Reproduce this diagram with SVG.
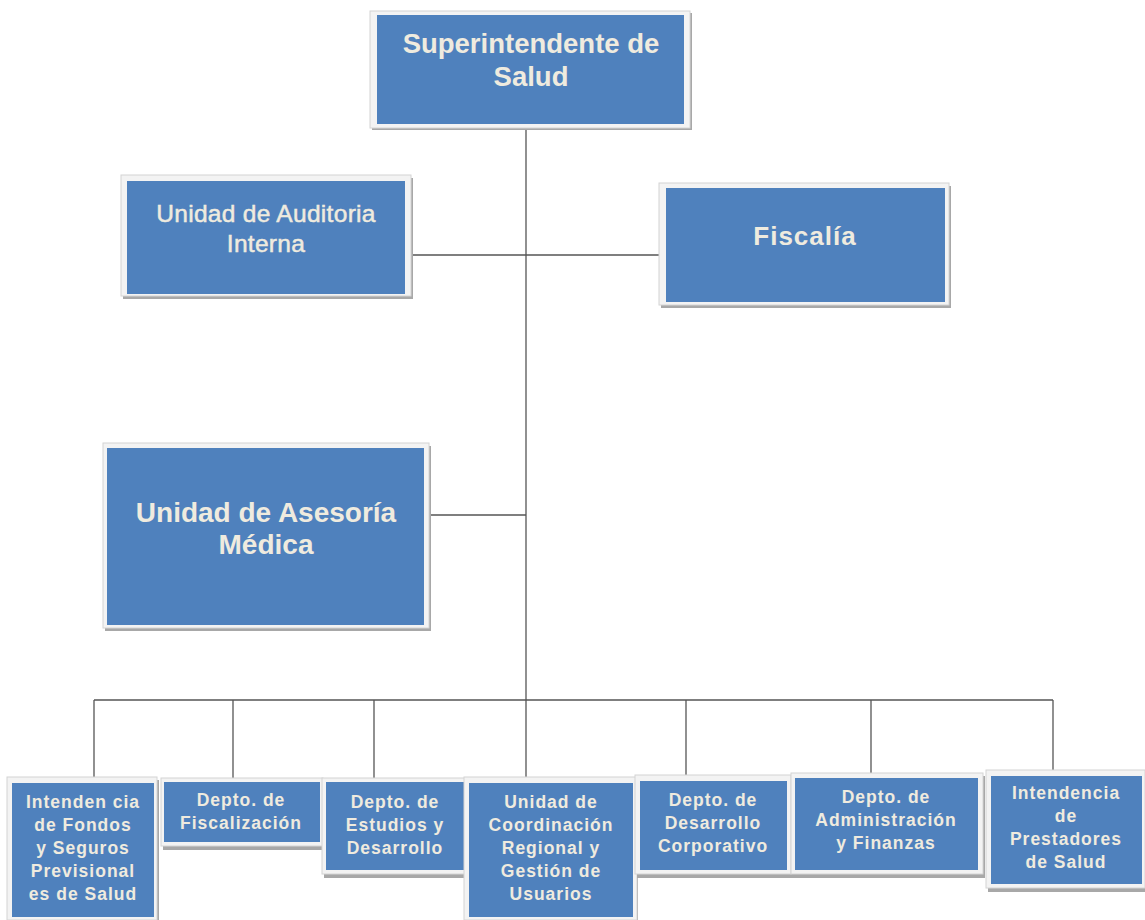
<svg xmlns="http://www.w3.org/2000/svg" width="1145" height="920" viewBox="0 0 1145 920">
<style>
.sh{fill:#a8a8a8}
.fr{fill:#f3f3f3;stroke:#d4d4d4;stroke-width:1}
.bx{fill:#4f81bd}
.t{fill:#efebdf;font-family:"Liberation Sans",Arial,sans-serif;text-anchor:middle}
.b{font-weight:bold}
.s{font-size:17.5px;font-weight:bold;letter-spacing:1px}
.c{stroke:#555;stroke-width:1.3;fill:none}
</style>
<rect width="1145" height="920" fill="#fff"/>
<g id="connectors">
<line class="c" x1="526" y1="128" x2="526" y2="778"/>
<line class="c" x1="412" y1="255" x2="659" y2="255"/>
<line class="c" x1="430" y1="515" x2="526" y2="515"/>
<line class="c" x1="94" y1="700" x2="1053" y2="700"/>
<line class="c" x1="94" y1="700" x2="94" y2="777"/>
<line class="c" x1="233" y1="700" x2="233" y2="778"/>
<line class="c" x1="374" y1="700" x2="374" y2="778"/>
<line class="c" x1="686" y1="700" x2="686" y2="775"/>
<line class="c" x1="871" y1="700" x2="871" y2="773"/>
<line class="c" x1="1053" y1="700" x2="1053" y2="770"/>
</g>
<g id="superintendente">
<rect class="sh" x="372" y="13" width="320" height="117"/>
<rect class="fr" x="370" y="11" width="320" height="117"/>
<rect class="bx" x="377" y="15" width="307" height="109"/>
<text class="t b" x="531" y="53" font-size="27.5">Superintendente de</text>
<text class="t b" x="531" y="86" font-size="27.5">Salud</text>
</g>
<g id="auditoria">
<rect class="sh" x="123" y="178" width="290" height="121"/>
<rect class="fr" x="121" y="175" width="290" height="121"/>
<rect class="bx" x="127" y="181" width="278" height="113"/>
<text class="t" x="266" y="222" font-size="24.5" letter-spacing="0.3" stroke="#efebdf" stroke-width="0.5">Unidad de Auditoria</text>
<text class="t" x="266" y="252" font-size="24.5" letter-spacing="0.3" stroke="#efebdf" stroke-width="0.5">Interna</text>
</g>
<g id="fiscalia">
<rect class="sh" x="661" y="186" width="290" height="122"/>
<rect class="fr" x="659" y="183" width="290" height="122"/>
<rect class="bx" x="666" y="188" width="279" height="114"/>
<text class="t b" x="805" y="245" font-size="26" letter-spacing="1">Fiscalía</text>
</g>
<g id="asesoria">
<rect class="sh" x="105" y="446" width="326" height="185"/>
<rect class="fr" x="103" y="443" width="326" height="185"/>
<rect class="bx" x="107" y="448" width="317" height="177"/>
<text class="t b" x="266" y="522" font-size="28">Unidad de Asesoría</text>
<text class="t b" x="266" y="554" font-size="28">Médica</text>
</g>
<g id="intendencia-fondos">
<rect class="sh" x="9" y="780" width="150" height="140"/>
<rect class="fr" x="7" y="777" width="150" height="143"/>
<rect class="bx" x="12" y="783" width="142" height="134"/>
<text class="t s" x="83" y="808">Intenden cia</text>
<text class="t s" x="83" y="831">de Fondos</text>
<text class="t s" x="83" y="854">y Seguros</text>
<text class="t s" x="83" y="877">Previsional</text>
<text class="t s" x="83" y="900">es de Salud</text>
</g>
<g id="fiscalizacion">
<rect class="sh" x="163" y="781" width="160" height="69"/>
<rect class="fr" x="161" y="778" width="162" height="68"/>
<rect class="bx" x="164" y="782" width="156" height="60"/>
<text class="t s" x="241" y="806">Depto. de</text>
<text class="t s" x="241" y="829">Fiscalización</text>
</g>
<g id="estudios">
<rect class="sh" x="324" y="781" width="144" height="97"/>
<rect class="fr" x="322" y="778" width="145" height="96"/>
<rect class="bx" x="326" y="782" width="138" height="88"/>
<text class="t s" x="395" y="808">Depto. de</text>
<text class="t s" x="395" y="831">Estudios y</text>
<text class="t s" x="395" y="854">Desarrollo</text>
</g>
<g id="coordinacion">
<rect class="sh" x="466" y="780" width="172" height="140"/>
<rect class="fr" x="464" y="777" width="173" height="143"/>
<rect class="bx" x="469" y="783" width="164" height="134"/>
<text class="t s" x="551" y="808">Unidad de</text>
<text class="t s" x="551" y="831">Coordinación</text>
<text class="t s" x="551" y="854">Regional y</text>
<text class="t s" x="551" y="877">Gestión de</text>
<text class="t s" x="551" y="900">Usuarios</text>
</g>
<g id="corporativo">
<rect class="sh" x="637" y="778" width="156" height="100"/>
<rect class="fr" x="635" y="775" width="156" height="99"/>
<rect class="bx" x="640" y="781" width="147" height="89"/>
<text class="t s" x="713" y="806">Depto. de</text>
<text class="t s" x="713" y="829">Desarrollo</text>
<text class="t s" x="713" y="852">Corporativo</text>
</g>
<g id="administracion">
<rect class="sh" x="793" y="776" width="192" height="102"/>
<rect class="fr" x="791" y="773" width="192" height="101"/>
<rect class="bx" x="795" y="778" width="183" height="92"/>
<text class="t s" x="886" y="803">Depto. de</text>
<text class="t s" x="886" y="826">Administración</text>
<text class="t s" x="886" y="849">y Finanzas</text>
</g>
<g id="prestadores">
<rect class="sh" x="988" y="773" width="157" height="119"/>
<rect class="fr" x="986" y="770" width="159" height="118"/>
<rect class="bx" x="991" y="776" width="151" height="108"/>
<text class="t s" x="1066" y="799">Intendencia</text>
<text class="t s" x="1066" y="822">de</text>
<text class="t s" x="1066" y="845">Prestadores</text>
<text class="t s" x="1066" y="868">de Salud</text>
</g>
</svg>
